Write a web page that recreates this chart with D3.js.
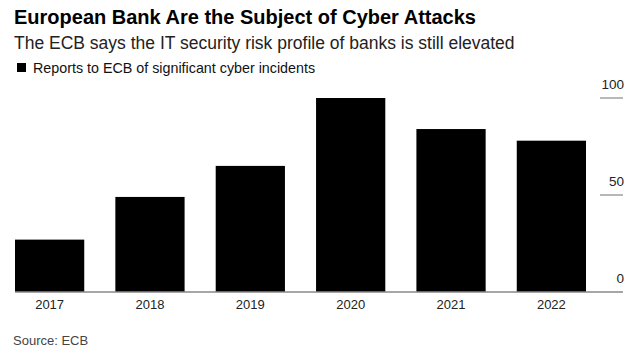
<!DOCTYPE html>
<html>
<head>
<meta charset="utf-8">
<script src="https://cdn.jsdelivr.net/npm/d3@7"></script>
<style>
  body { margin: 0; background: #fff; }
  text { font-family: "Liberation Sans", Arial, sans-serif; }
</style>
</head>
<body>
<div id="chart"></div>
<script>
// data
const years = ['2017', '2018', '2019', '2020', '2021', '2022'];
const incidents = [27, 49, 65, 100, 84, 78];
const yTicks = [0, 50, 100];

const width = 640, height = 353;

const svg = d3.select('#chart')
  .append('svg')
  .attr('width', width)
  .attr('height', height);

// titles
svg.append('text')
  .attr('x', 14).attr('y', 24)
  .attr('font-size', 20).attr('font-weight', 'bold')
  .attr('fill', '#000')
  .text('European Bank Are the Subject of Cyber Attacks');

svg.append('text')
  .attr('x', 14).attr('y', 49)
  .attr('font-size', 17.5)
  .attr('fill', '#222')
  .text('The ECB says the IT security risk profile of banks is still elevated');

// legend
svg.append('rect')
  .attr('x', 17).attr('y', 63)
  .attr('width', 9).attr('height', 9)
  .attr('fill', '#000');
svg.append('text')
  .attr('x', 33).attr('y', 72.5)
  .attr('font-size', 14.3)
  .attr('fill', '#111')
  .text('Reports to ECB of significant cyber incidents');

// scales
const x = d3.scaleBand()
  .domain(years)
  .range([15, 586])
  .paddingInner(0.31)
  .paddingOuter(0);

const y = d3.scaleLinear()
  .domain([0, 100])
  .range([292, 98]);

// y ticks on the right
const yAxis = svg.append('g');
yAxis.selectAll('line')
  .data(yTicks.filter(d => d > 0))
  .enter().append('line')
  .attr('x1', 600).attr('x2', 623)
  .attr('y1', d => y(d)).attr('y2', d => y(d))
  .attr('stroke', '#888').attr('stroke-width', 1.2);
yAxis.selectAll('text')
  .data(yTicks)
  .enter().append('text')
  .attr('x', 624)
  .attr('y', d => y(d) - 9)
  .attr('text-anchor', 'end')
  .attr('font-size', 13.5)
  .attr('fill', '#222')
  .text(d => d);

// bars
svg.append('g')
  .selectAll('rect')
  .data(incidents)
  .enter().append('rect')
  .attr('x', (d, i) => x(years[i]))
  .attr('y', d => y(d))
  .attr('width', x.bandwidth())
  .attr('height', d => y(0) - y(d))
  .attr('fill', '#000');

// baseline
svg.append('line')
  .attr('x1', 15).attr('x2', 623)
  .attr('y1', y(0)).attr('y2', y(0))
  .attr('stroke', '#888').attr('stroke-width', 1.5);

// x labels
svg.append('g')
  .selectAll('text')
  .data(years)
  .enter().append('text')
  .attr('x', d => x(d) + x.bandwidth() / 2)
  .attr('y', 309)
  .attr('text-anchor', 'middle')
  .attr('font-size', 13)
  .attr('fill', '#222')
  .text(d => d);

// source
svg.append('text')
  .attr('x', 13).attr('y', 345)
  .attr('font-size', 13)
  .attr('fill', '#444')
  .text('Source: ECB');
</script>
</body>
</html>
